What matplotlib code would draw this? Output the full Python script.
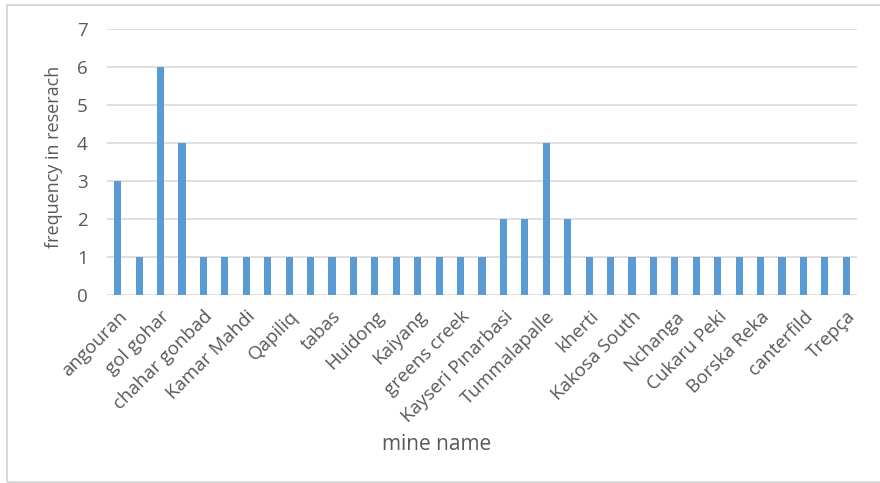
import matplotlib
matplotlib.use("Agg")
import matplotlib.pyplot as plt
from matplotlib.patches import Rectangle

# Nomes das minas (só as posições pares aparecem no eixo do original)
mines = [
    "angouran", "", "gol gohar", "", "chahar gonbad", "", "Kamar Mahdi", "",
    "Qapiliq", "", "tabas", "", "Huidong", "", "Kaiyang", "", "greens creek", "",
    "Kayseri Pınarbasi", "", "Tummalapalle", "", "kherti", "", "Kakosa South", "",
    "Nchanga", "", "Cukaru Peki", "", "Borska Reka", "", "canterfild", "", "Trepça",
]
frequency = [
    3, 1, 6, 4, 1, 1, 1, 1, 1, 1, 1, 1, 1, 1, 1, 1, 1, 1,
    2, 2, 4, 2, 1, 1, 1, 1, 1, 1, 1, 1, 1, 1, 1, 1, 1,
]
yticks = [0, 1, 2, 3, 4, 5, 6, 7]

BAR = "#5B9BD5"
GRID = "#D9D9D9"
TXT = "#595959"

plt.rcParams["font.family"] = ["Open Sans", "DejaVu Sans"]

fig = plt.figure(figsize=(8.8, 4.83), dpi=100)
ax = fig.add_axes([107 / 880, 1 - 295 / 483, 750 / 880, 266 / 483])

x = list(range(len(mines)))
ax.bar(x, frequency, width=0.33, color=BAR, zorder=3)

ax.set_xlim(-0.5, len(mines) - 0.5)
ax.set_ylim(0, 7)
ax.set_yticks(yticks)
ax.yaxis.grid(True, color=GRID, linewidth=1.2, zorder=0)
for s in ax.spines.values():
    s.set_visible(False)

ax.set_xticks(x[::2])
ax.set_xticklabels(mines[::2], rotation=45, ha="right", va="top",
                   rotation_mode="anchor", fontsize=13.5, color=TXT)
ax.tick_params(axis="both", length=0, labelcolor=TXT)
ax.tick_params(axis="y", pad=14, labelsize=13.5)
ax.tick_params(axis="x", pad=9)

ax.set_ylabel("frequency in reserach", fontsize=13, color=TXT)
ax.yaxis.set_label_coords(-53 / 750, 0.5 + (162 - 157) / 266)
ax.set_xlabel("mine name", fontsize=15, color=TXT)
ax.xaxis.set_label_coords((437 - 107) / 750, -(444 - 295) / 266)
ax.xaxis.label.set_va("center")
ax.yaxis.label.set_va("center")

# Cadre gris clair autour du graphique (ouvert à droite)
fig.patches.append(Rectangle((7 / 880, 1.5 / 483), 900 / 880, 477 / 483,
                             transform=fig.transFigure, fill=False,
                             edgecolor=GRID, linewidth=1.5))

fig.savefig("out.png", dpi=100)
